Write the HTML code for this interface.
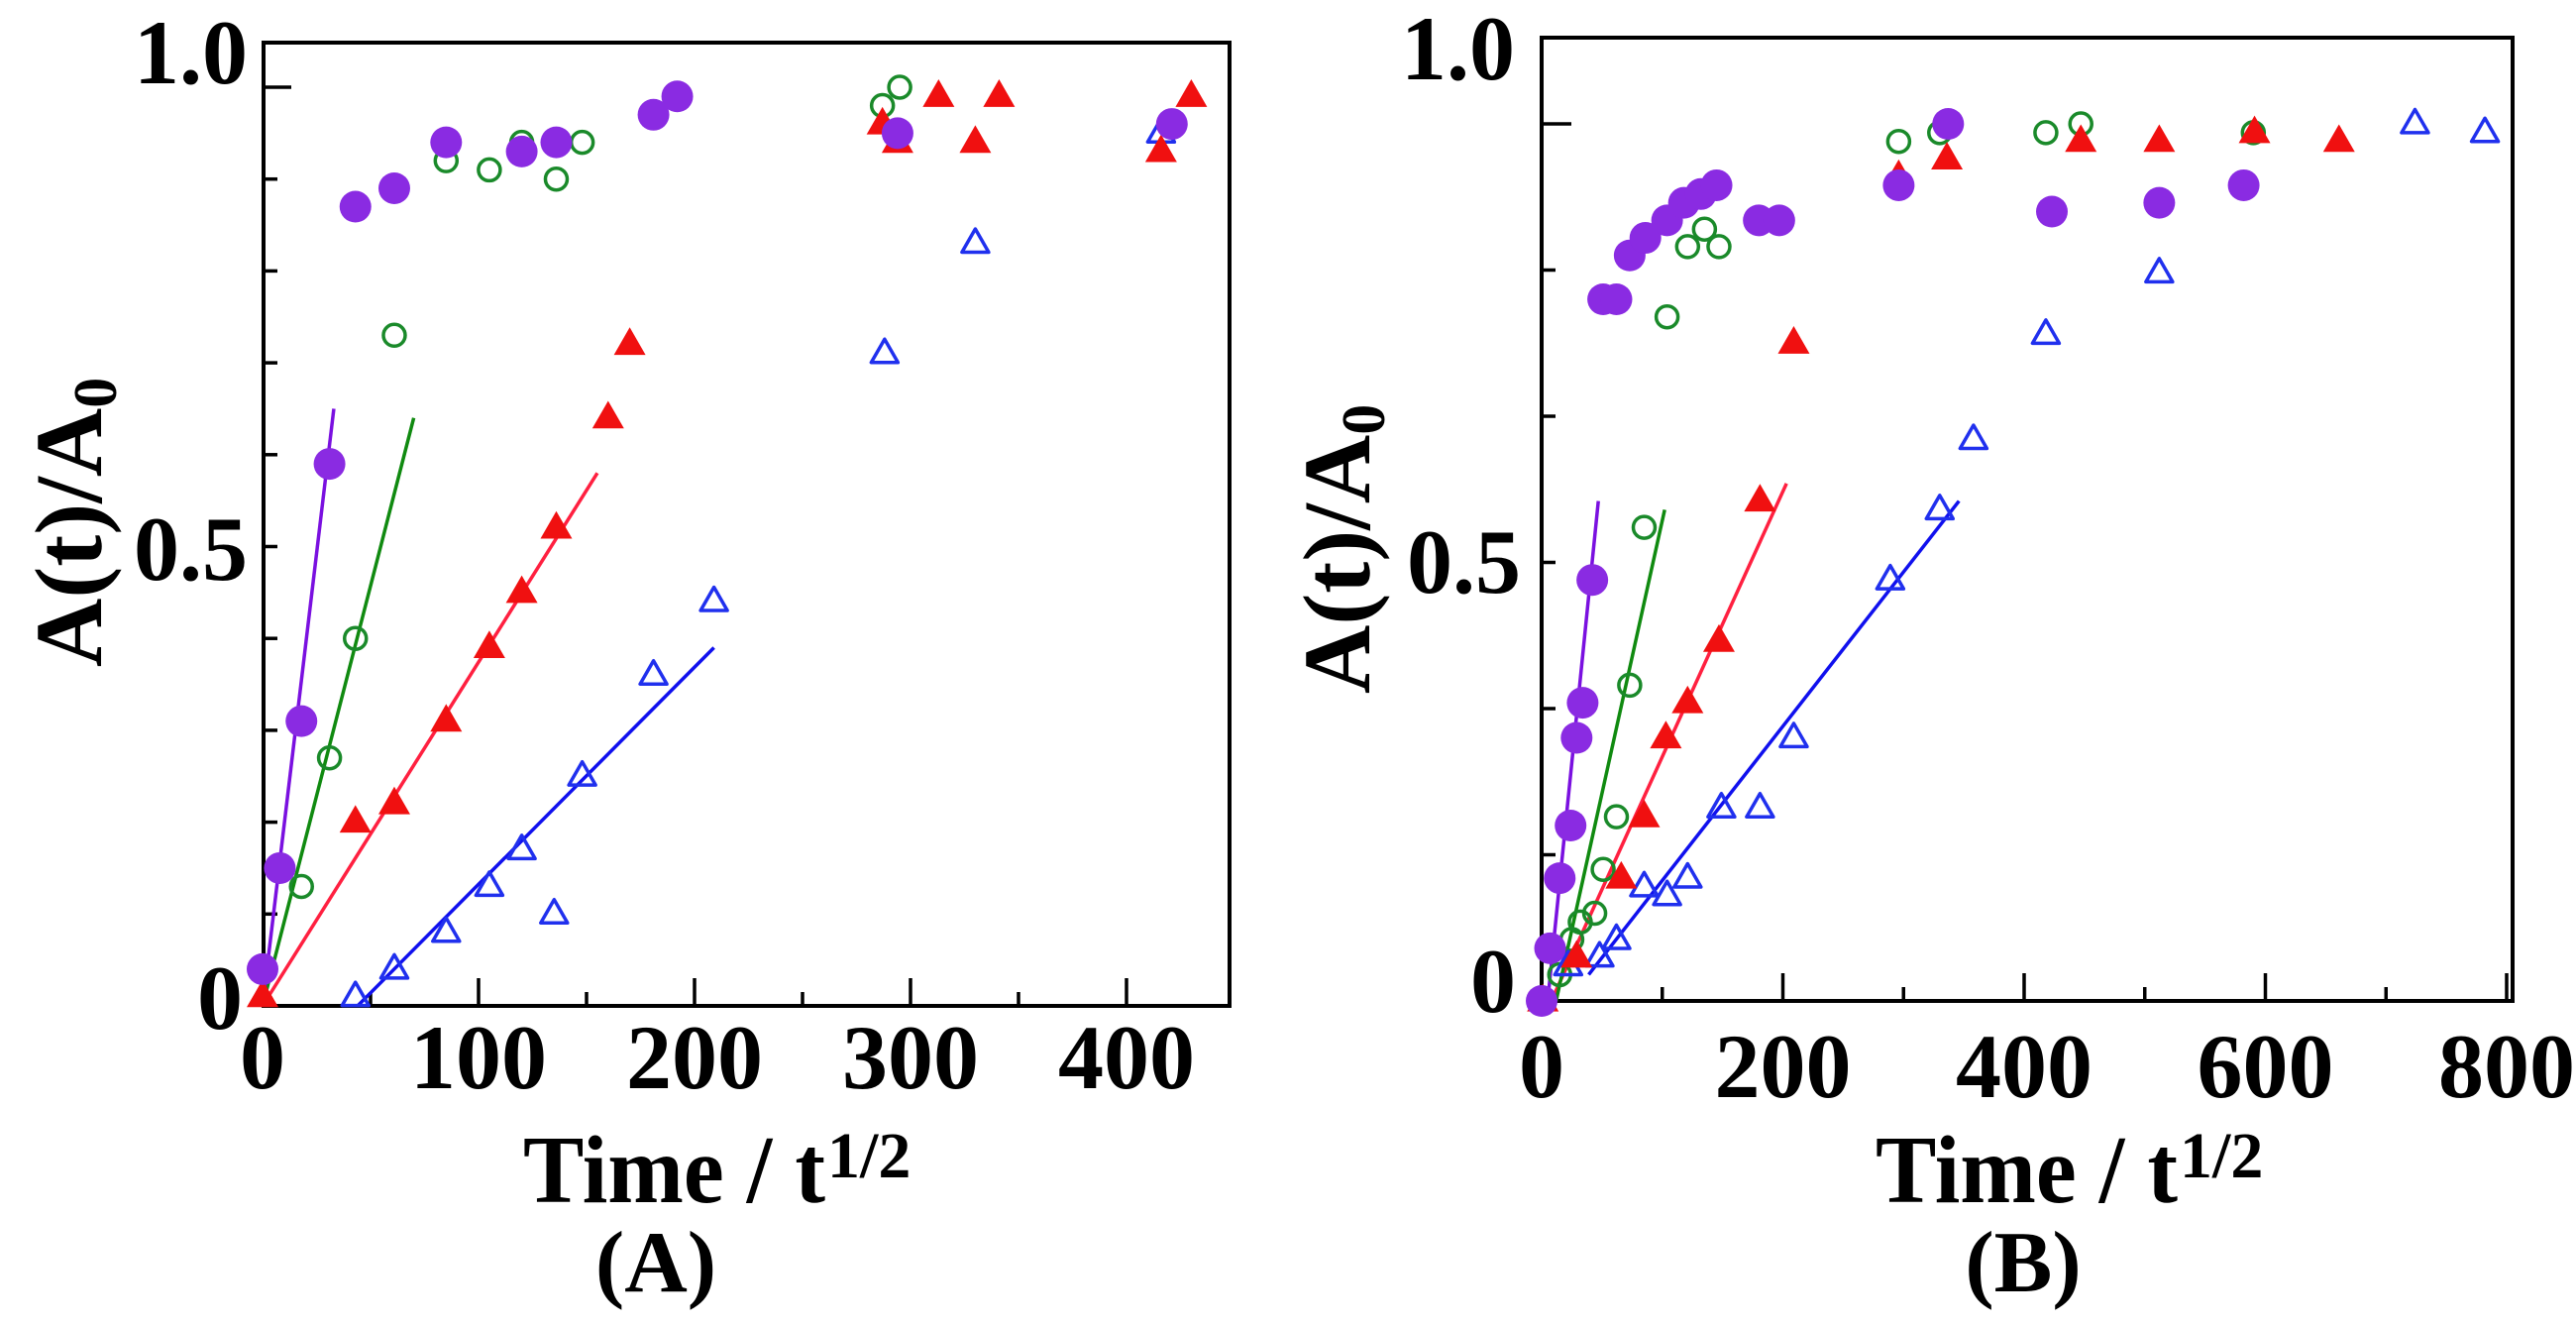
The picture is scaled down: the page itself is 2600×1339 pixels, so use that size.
<!DOCTYPE html>
<html><head><meta charset="utf-8">
<style>
html,body{margin:0;padding:0;background:#fff;}
svg{display:block;}
text{font-family:"Liberation Serif",serif;font-weight:bold;fill:#000;}
</style></head>
<body>
<svg id="fig" width="2600" height="1339" viewBox="0 0 2600 1339" xmlns="http://www.w3.org/2000/svg">
<g id="panelA"></g>
<g id="panelB"></g>
<!-- Panel A texts -->
<text x="250" y="84" font-size="92" text-anchor="end">1.0</text>
<text x="250" y="585" font-size="92" text-anchor="end">0.5</text>
<text x="245" y="1038" font-size="92" text-anchor="end">0</text>
<g id="xtA"></g>
<text x="528" y="1213" font-size="98" textLength="305" lengthAdjust="spacingAndGlyphs">Time / t</text>
<text x="835" y="1188" font-size="66">1/2</text>
<text x="662" y="1303" font-size="88" text-anchor="middle">(A)</text>
<text transform="translate(102,673) rotate(-90)" font-size="96">A(t)/A<tspan font-size="62" dy="15">0</tspan></text>
<!-- Panel B texts -->
<text x="1529" y="80" font-size="92" text-anchor="end">1.0</text>
<text x="1535" y="598" font-size="92" text-anchor="end">0.5</text>
<text x="1530" y="1021" font-size="92" text-anchor="end">0</text>
<g id="xtB"></g>
<text x="1893" y="1213" font-size="98" textLength="305" lengthAdjust="spacingAndGlyphs">Time / t</text>
<text x="2200" y="1188" font-size="66">1/2</text>
<text x="2042" y="1303" font-size="88" text-anchor="middle">(B)</text>
<text transform="translate(1382,700) rotate(-90)" font-size="96">A(t)/A<tspan font-size="62" dy="15">0</tspan></text>
</svg>
<script>
// ---------- Panel A data ----------
const aPurpleX = [0,8,18,31,43,61,85,120,136,181,192,294,421];
const aPurpleY = [0.04,0.15,0.31,0.59,0.87,0.89,0.94,0.93,0.94,0.97,0.99,0.95,0.96];
const aGreenX = [18,31,43,61,85,105,120,136,148,287,295];
const aGreenY = [0.13,0.27,0.40,0.73,0.92,0.91,0.94,0.90,0.94,0.98,1.00];
const aRedX = [0,43,61,85,105,120,136,160,170,287,294,313,330,341,416,430];
const aRedY = [0.01,0.20,0.22,0.31,0.39,0.45,0.52,0.64,0.72,0.96,0.94,0.99,0.94,0.99,0.93,0.99];
const aBlueX = [43,61,85,105,120,135,148,181,209,288,330,416];
const aBlueY = [0.01,0.04,0.08,0.13,0.17,0.10,0.25,0.36,0.44,0.71,0.83,0.95];
const aFitPurple = [0,0,33,0.65];
const aFitGreen = [0,0,70,0.64];
const aFitRed = [0,0,155,0.58];
const aFitBlue = [44,0,209,0.39];
const aXTicks = [0,100,200,300,400];
// ---------- Panel B data ----------
const bPurpleX = [0,7,15,24,29,34,42,51,62,73,86,104,118,132,145,180,197,296,337,423,512,582];
const bPurpleY = [0,0.06,0.14,0.20,0.30,0.34,0.48,0.80,0.80,0.85,0.87,0.89,0.91,0.92,0.93,0.89,0.89,0.93,1.0,0.90,0.91,0.93];
const bGreenX = [15,25,32,44,51,62,73,85,104,121,135,147,296,330,418,447,590];
const bGreenY = [0.03,0.07,0.09,0.10,0.15,0.21,0.36,0.54,0.78,0.86,0.88,0.86,0.98,0.99,0.99,1.0,0.99];
const bRedX = [1,29,66,85,103,121,147,181,209,296,336,447,512,591,661];
const bRedY = [0,0.05,0.14,0.21,0.30,0.34,0.41,0.57,0.75,0.94,0.96,0.98,0.98,0.99,0.98];
const bBlueX = [22,48,62,85,104,121,149,181,209,289,330,358,418,512,724,782];
const bBlueY = [0.04,0.05,0.07,0.13,0.12,0.14,0.22,0.22,0.30,0.48,0.56,0.64,0.76,0.83,1.0,0.99];
const bFitPurple = [5,0,47,0.57];
const bFitGreen = [12,0,102,0.56];
const bFitRed = [8,0,203,0.59];
const bFitBlue = [39,0.03,346,0.57];
const bXTicks = [0,200,400,600,800];

const NS = "http://www.w3.org/2000/svg";
function mk(parent, tag, attrs){
  const el = document.createElementNS(NS, tag);
  for (const k in attrs) el.setAttribute(k, attrs[k]);
  parent.appendChild(el);
  return el;
}
const xA = v => 265 + v*2.18;
const yA = v => 1015 - v*927;
const xB = v => 1556 + v*1.2175;
const yB = v => 1010 - v*885;

function frame(g, x0, y0, x1, y1, name){
  const r = mk(g,'rect',{x:x0,y:y0,width:x1-x0,height:y1-y0,fill:'none',stroke:'#000','stroke-width':4});
  
  
}
function tick(g, x1,y1,x2,y2,name){
  const l = mk(g,'line',{x1:x1,y1:y1,x2:x2,y2:y2,stroke:'#000','stroke-width':3.5});
  
  
}
function fit(g, sx, sy, f, color, name){
  const l = mk(g,'line',{x1:sx(f[0]),y1:sy(f[1]),x2:sx(f[2]),y2:sy(f[3]),stroke:color,'stroke-width':3.5});
  
  
}
function circles(g, sx, sy, xs, ys, filled, color, r, name){
  for (let i=0;i<xs.length;i++){
    const c = mk(g,'circle',{cx:sx(xs[i]),cy:sy(ys[i]),r:r,
      fill: filled?color:'none', stroke: color, 'stroke-width': filled?0:3.5});
    
    
  }
}
function tris(g, sx, sy, xs, ys, filled, color, s, name){
  for (let i=0;i<xs.length;i++){
    const cx=sx(xs[i]), cy=sy(ys[i]);
    const h=s*0.87;
    const pts = `${cx},${cy-h*0.62} ${cx-s/2},${cy+h*0.38} ${cx+s/2},${cy+h*0.38}`;
    const p = mk(g,'polygon',{points:pts, fill: filled?color:'none', stroke:color,'stroke-width': filled?0:3.5,'stroke-linejoin':'round'});
    
    
  }
}
function xlabels(g, sx, ticks, y, name){
  for (const t of ticks){
    const tx = mk(g,'text',{x:sx(t), y:y, 'font-size':92, 'text-anchor':'middle'});
    tx.textContent = String(t);
    
    
  }
}

// Panel A
const gA = document.getElementById('panelA');
frame(gA, 266, 43, 1241, 1015, 'plot-frame-a');
for (let v=50; v<=400; v+=50) tick(gA, xA(v), 1015, xA(v), 1015-(v%100===0?28:14), 'x-tick-a');
for (let k=1; k<=10; k++) tick(gA, 266, yA(k/10), 266+ (k===10?28:14), yA(k/10), 'y-tick-a');
fit(gA, xA, yA, aFitBlue, '#1010ee', 'fit-line-a-blue');
fit(gA, xA, yA, aFitRed, '#ff2040', 'fit-line-a-red');
fit(gA, xA, yA, aFitGreen, '#108a10', 'fit-line-a-green');
fit(gA, xA, yA, aFitPurple, '#7a10e0', 'fit-line-a-purple');
circles(gA, xA, yA, aGreenX, aGreenY, false, '#1a8a2a', 11, 'green-open-circle-a');
tris(gA, xA, yA, aBlueX, aBlueY, false, '#2030ee', 27, 'blue-open-triangle-a');
tris(gA, xA, yA, aRedX, aRedY, true, '#f01010', 32, 'red-filled-triangle-a');
circles(gA, xA, yA, aPurpleX, aPurpleY, true, '#8a2be2', 16, 'purple-filled-circle-a');
xlabels(document.getElementById('xtA'), xA, aXTicks, 1098, 'x-tick-label-a');

// Panel B
const gB = document.getElementById('panelB');
frame(gB, 1556, 38, 2536, 1010, 'plot-frame-b');
for (let v=100; v<=800; v+=100) tick(gB, xB(v), 1010, xB(v), 1010-(v%200===0?28:14), 'x-tick-b');
for (let k=1; k<=6; k++) tick(gB, 1556, yB(k/6), 1556+(k===6?30:14), yB(k/6), 'y-tick-b');
fit(gB, xB, yB, bFitBlue, '#1010ee', 'fit-line-b-blue');
fit(gB, xB, yB, bFitRed, '#ff2040', 'fit-line-b-red');
fit(gB, xB, yB, bFitGreen, '#108a10', 'fit-line-b-green');
fit(gB, xB, yB, bFitPurple, '#7a10e0', 'fit-line-b-purple');
circles(gB, xB, yB, bGreenX, bGreenY, false, '#1a8a2a', 11, 'green-open-circle-b');
tris(gB, xB, yB, bBlueX, bBlueY, false, '#2030ee', 27, 'blue-open-triangle-b');
tris(gB, xB, yB, bRedX, bRedY, true, '#f01010', 32, 'red-filled-triangle-b');
circles(gB, xB, yB, bPurpleX, bPurpleY, true, '#8a2be2', 16, 'purple-filled-circle-b');
xlabels(document.getElementById('xtB'), xB, bXTicks, 1107, 'x-tick-label-b');
</script>
</body></html>
